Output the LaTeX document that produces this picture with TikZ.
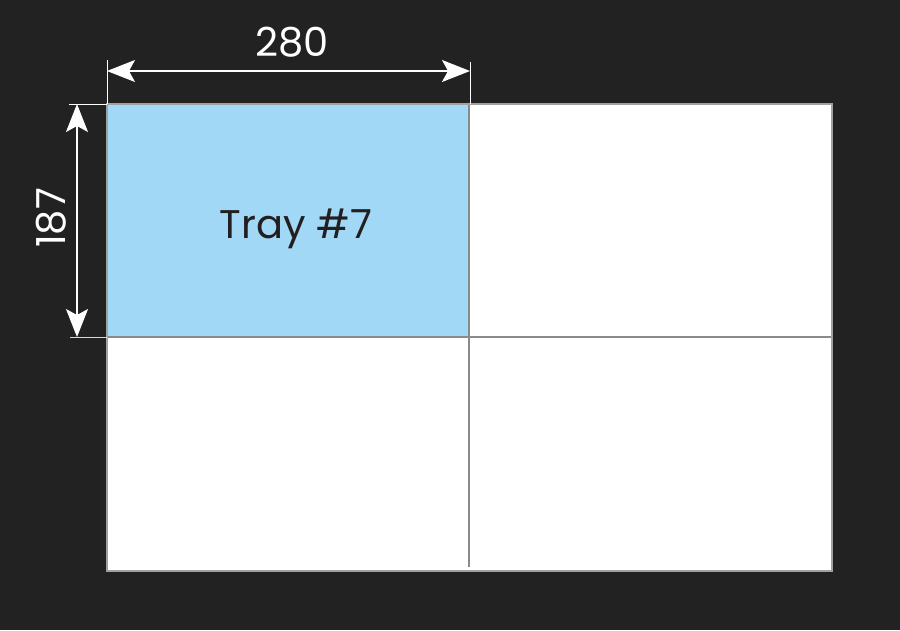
\documentclass[tikz,border=0pt]{standalone}
\usepackage{fontspec}
\setmainfont{Poppins}
\usetikzlibrary{arrows.meta}
\definecolor{bgc}{HTML}{222222}
\definecolor{trayblue}{HTML}{A0D8F5}
\definecolor{edgegray}{HTML}{8A8A8A}
\definecolor{txtdark}{HTML}{231F20}
\tikzset{
  dimline/.style={white, line width=1.2pt, {Stealth[length=28pt,width=22pt,inset=6pt]}-{Stealth[length=28pt,width=22pt,inset=6pt]}},
  extline/.style={white, line width=1pt},
  divider/.style={edgegray, line width=1.3pt},
  dimtext/.style={white, font=\fontsize{40}{44}\selectfont, inner sep=0pt},
  traytext/.style={txtdark, font=\fontsize{40}{44}\selectfont, inner sep=0pt}
}
\begin{document}
\begin{tikzpicture}[x=1pt,y=-1pt]
\fill[bgc] (0,0) rectangle (900,630);
\useasboundingbox (0,0) rectangle (900,630);
% corners
\coordinate (TL) at (107,104);
\coordinate (BR) at (832,571);
\coordinate (MT) at (469,104);
\coordinate (MM) at (469,337);
\coordinate (ML) at (107,337);
\coordinate (MR) at (831,337);
\coordinate (MB) at (469,567);
% panels
\fill[white] (TL) rectangle (BR);
\fill[trayblue] (TL) rectangle (MM);
\draw[divider] (MT) -- (MB);
\draw[divider] (ML) -- (MR);
\draw[edgegray!80!white, line width=1.6pt] (TL) rectangle (BR);
\node[traytext] (tray) at (296,229) {Tray \#7};
% horizontal dimension
\coordinate (e1a) at (107,60);
\coordinate (e2a) at (470,62);
\coordinate (e2b) at (470,104);
\draw[extline] (e1a) -- (TL);
\draw[extline] (e2a) -- (e2b);
\coordinate (hA) at (107,71);
\coordinate (hB) at (470,71);
\draw[dimline] (hA) -- (hB);
\node[dimtext] (w) at (292,42) {280};
% vertical dimension
\coordinate (e3a) at (69,104);
\coordinate (e4a) at (70,337);
\draw[extline] (e3a) -- (TL);
\draw[extline, white!70!gray] (e4a) -- (ML);
\coordinate (vA) at (77,104);
\coordinate (vB) at (77,337);
\draw[dimline] (vA) -- (vB);
\node[dimtext, rotate=90] (h) at (51,218) {187};
\end{tikzpicture}
\end{document}
